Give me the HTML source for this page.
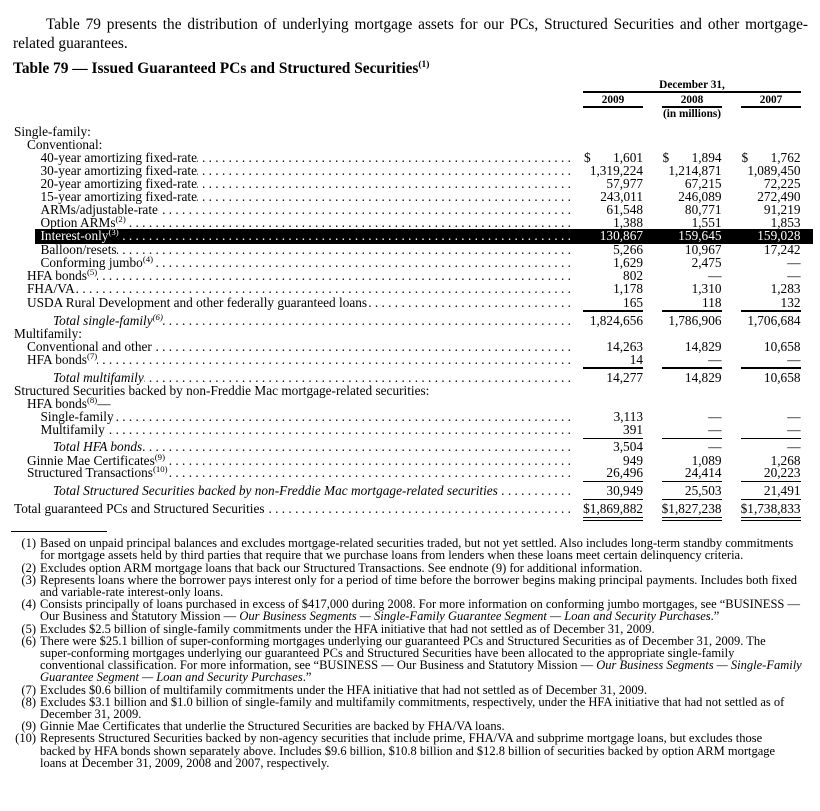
<!DOCTYPE html>
<html><head><meta charset="utf-8">
<style>
*{margin:0;padding:0;box-sizing:border-box}
html,body{width:820px;height:811px;background:#fff;overflow:hidden}
body{position:relative;font-family:"Liberation Serif","Times New Roman",serif;color:#000}
.a{position:absolute;white-space:nowrap}
.p{font-size:15.3px;line-height:19px;height:19px}
.t{font-size:15.4px;line-height:19px;height:19px;font-weight:bold}
.h{font-size:11.3px;line-height:13px;height:13px;font-weight:bold;text-align:center}
.rule{position:absolute;background:#000}
.r{position:absolute;left:0;width:820px;height:14px;line-height:14px;font-size:13.3px;white-space:nowrap}
.l{position:absolute;top:0;display:flex;white-space:nowrap;height:14px}
.l .d{flex:1 1 0;min-width:0;overflow:hidden;direction:rtl;font-style:normal;padding-left:3px;text-align:right;white-space:pre}
.v{position:absolute;top:0;text-align:right;width:100px}
.c1{left:543px}.c2{left:621.5px}.c3{left:700.5px}
.s{position:absolute;top:0}
.s1{left:584px}.s2{left:662.5px}.s3{left:741.5px}
sup,.sp{font-size:8.8px;position:relative;top:-5px;vertical-align:baseline;line-height:0}
.it{font-style:italic}
.w{color:#fff}
.f{position:absolute;left:0;width:820px;font-size:12.5px;line-height:12.2px;height:12.2px;white-space:nowrap}
.f .n{position:absolute;right:784px;top:0}
.f .x{position:absolute;left:40px;top:0}
</style></head><body>

<div class="a p" style="left:46px;top:14.8px;width:762px;text-align:justify;text-align-last:justify">Table 79 presents the distribution of underlying mortgage assets for our PCs, Structured Securities and other mortgage-</div>
<div class="a p" style="left:13px;top:33.5px">related guarantees.</div>
<div class="a t" style="left:13px;top:59.3px">Table 79 — Issued Guaranteed PCs and Structured Securities<span class="sp" style="font-size:9.5px;top:-6px">(1)</span></div>

<div class="a h" style="left:583px;width:218px;top:78.7px">December 31,</div>
<div class="rule" style="left:583px;top:91px;width:218px;height:2px"></div>
<div class="a h" style="left:583px;width:60px;top:93.5px">2009</div>
<div class="a h" style="left:662px;width:60px;top:93.5px">2008</div>
<div class="a h" style="left:741px;width:60px;top:93.5px">2007</div>
<div class="rule" style="left:583px;top:106px;width:60px;height:2px"></div>
<div class="rule" style="left:662px;top:106px;width:60px;height:2px"></div>
<div class="rule" style="left:741px;top:106px;width:60px;height:2px"></div>
<div class="a h" style="left:583px;width:218px;top:107.7px">(in millions)</div>

<div class="r" style="top:125px"><span class="a" style="left:14px">Single-family:</span></div>
<div class="r" style="top:137.5px"><span class="a" style="left:27px">Conventional:</span></div>

<div class="r" style="top:150.5px"><div class="l" style="left:40.5px;width:530.5px"><span>40-year amortizing fixed-rate</span><i class="d">. . . . . . . . . . . . . . . . . . . . . . . . . . . . . . . . . . . . . . . . . . . . . . . . . . . . . . . . . . . . . . . . . . . . . . . . . . . . . . . . . .</i></div><span class="s s1">$</span><span class="v c1">1,601</span><span class="s s2">$</span><span class="v c2">1,894</span><span class="s s3">$</span><span class="v c3">1,762</span></div>
<div class="r" style="top:163.7px"><div class="l" style="left:40.5px;width:530.5px"><span>30-year amortizing fixed-rate</span><i class="d">. . . . . . . . . . . . . . . . . . . . . . . . . . . . . . . . . . . . . . . . . . . . . . . . . . . . . . . . . . . . . . . . . . . . . . . . . . . . . . . . . .</i></div><span class="v c1">1,319,224</span><span class="v c2">1,214,871</span><span class="v c3">1,089,450</span></div>
<div class="r" style="top:176.9px"><div class="l" style="left:40.5px;width:530.5px"><span>20-year amortizing fixed-rate</span><i class="d">. . . . . . . . . . . . . . . . . . . . . . . . . . . . . . . . . . . . . . . . . . . . . . . . . . . . . . . . . . . . . . . . . . . . . . . . . . . . . . . . . .</i></div><span class="v c1">57,977</span><span class="v c2">67,215</span><span class="v c3">72,225</span></div>
<div class="r" style="top:190px"><div class="l" style="left:40.5px;width:530.5px"><span>15-year amortizing fixed-rate</span><i class="d">. . . . . . . . . . . . . . . . . . . . . . . . . . . . . . . . . . . . . . . . . . . . . . . . . . . . . . . . . . . . . . . . . . . . . . . . . . . . . . . . . .</i></div><span class="v c1">243,011</span><span class="v c2">246,089</span><span class="v c3">272,490</span></div>
<div class="r" style="top:203.2px"><div class="l" style="left:40.5px;width:530.5px"><span>ARMs/adjustable-rate</span><i class="d">. . . . . . . . . . . . . . . . . . . . . . . . . . . . . . . . . . . . . . . . . . . . . . . . . . . . . . . . . . . . . . . . . . . . . . . . . . . . . . . . . .</i></div><span class="v c1">61,548</span><span class="v c2">80,771</span><span class="v c3">91,219</span></div>
<div class="r" style="top:216.4px"><div class="l" style="left:40.5px;width:530.5px"><span>Option ARMs<sup>(2)</sup></span><i class="d">. . . . . . . . . . . . . . . . . . . . . . . . . . . . . . . . . . . . . . . . . . . . . . . . . . . . . . . . . . . . . . . . . . . . . . . . . . . . . . . . . .</i></div><span class="v c1">1,388</span><span class="v c2">1,551</span><span class="v c3">1,853</span></div>
<div class="rule" style="left:35px;top:228.5px;width:778px;height:15px"></div>
<div class="r w" style="top:229.4px"><div class="l" style="left:40.5px;width:530.5px"><span>Interest-only<sup>(3)</sup></span><i class="d">. . . . . . . . . . . . . . . . . . . . . . . . . . . . . . . . . . . . . . . . . . . . . . . . . . . . . . . . . . . . . . . . . . . . . . . . . . . . . . . . . .</i></div><span class="v c1">130,867</span><span class="v c2">159,645</span><span class="v c3">159,028</span></div>
<div class="r" style="top:242.8px"><div class="l" style="left:40.5px;width:530.5px"><span>Balloon/resets</span><i class="d">. . . . . . . . . . . . . . . . . . . . . . . . . . . . . . . . . . . . . . . . . . . . . . . . . . . . . . . . . . . . . . . . . . . . . . . . . . . . . . . . . .</i></div><span class="v c1">5,266</span><span class="v c2">10,967</span><span class="v c3">17,242</span></div>
<div class="r" style="top:255.9px"><div class="l" style="left:40.5px;width:530.5px"><span>Conforming jumbo<sup>(4)</sup></span><i class="d">. . . . . . . . . . . . . . . . . . . . . . . . . . . . . . . . . . . . . . . . . . . . . . . . . . . . . . . . . . . . . . . . . . . . . . . . . . . . . . . . . .</i></div><span class="v c1">1,629</span><span class="v c2">2,475</span><span class="v c3">—</span></div>
<div class="r" style="top:269.1px"><div class="l" style="left:27px;width:544px"><span>HFA bonds<sup>(5)</sup></span><i class="d">. . . . . . . . . . . . . . . . . . . . . . . . . . . . . . . . . . . . . . . . . . . . . . . . . . . . . . . . . . . . . . . . . . . . . . . . . . . . . . . . . .</i></div><span class="v c1">802</span><span class="v c2">—</span><span class="v c3">—</span></div>
<div class="r" style="top:282.3px"><div class="l" style="left:27px;width:544px"><span>FHA/VA</span><i class="d">. . . . . . . . . . . . . . . . . . . . . . . . . . . . . . . . . . . . . . . . . . . . . . . . . . . . . . . . . . . . . . . . . . . . . . . . . . . . . . . . . .</i></div><span class="v c1">1,178</span><span class="v c2">1,310</span><span class="v c3">1,283</span></div>
<div class="r" style="top:295.5px"><div class="l" style="left:27px;width:544px"><span>USDA Rural Development and other federally guaranteed loans</span><i class="d">. . . . . . . . . . . . . . . . . . . . . . . . . . . . . . . . . . . . . . . . . . . . . . . . . . . . . . . . . . . . . . . . . . . . . . . . . . . . . . . . . .</i></div><span class="v c1">165</span><span class="v c2">118</span><span class="v c3">132</span></div>
<div class="rule" style="left:583px;top:310.2px;width:60px;height:2px"></div>
<div class="rule" style="left:662px;top:310.2px;width:60px;height:2px"></div>
<div class="rule" style="left:741px;top:310.2px;width:60px;height:2px"></div>
<div class="r" style="top:313.5px"><div class="l it" style="left:53px;width:518px"><span>Total single-family<sup>(6)</sup></span><i class="d">. . . . . . . . . . . . . . . . . . . . . . . . . . . . . . . . . . . . . . . . . . . . . . . . . . . . . . . . . . . . . . . . . . . . . . . . . . . . . . . . . .</i></div><span class="v c1">1,824,656</span><span class="v c2">1,786,906</span><span class="v c3">1,706,684</span></div>
<div class="r" style="top:326.8px"><span class="a" style="left:14px">Multifamily:</span></div>
<div class="r" style="top:340px"><div class="l" style="left:27px;width:544px"><span>Conventional and other</span><i class="d">. . . . . . . . . . . . . . . . . . . . . . . . . . . . . . . . . . . . . . . . . . . . . . . . . . . . . . . . . . . . . . . . . . . . . . . . . . . . . . . . . .</i></div><span class="v c1">14,263</span><span class="v c2">14,829</span><span class="v c3">10,658</span></div>
<div class="r" style="top:352.8px"><div class="l" style="left:27px;width:544px"><span>HFA bonds<sup>(7)</sup></span><i class="d">. . . . . . . . . . . . . . . . . . . . . . . . . . . . . . . . . . . . . . . . . . . . . . . . . . . . . . . . . . . . . . . . . . . . . . . . . . . . . . . . . .</i></div><span class="v c1">14</span><span class="v c2">—</span><span class="v c3">—</span></div>
<div class="rule" style="left:583px;top:366.5px;width:60px;height:2px"></div>
<div class="rule" style="left:662px;top:366.5px;width:60px;height:2px"></div>
<div class="rule" style="left:741px;top:366.5px;width:60px;height:2px"></div>
<div class="r" style="top:370.5px"><div class="l it" style="left:53px;width:518px"><span>Total multifamily</span><i class="d">. . . . . . . . . . . . . . . . . . . . . . . . . . . . . . . . . . . . . . . . . . . . . . . . . . . . . . . . . . . . . . . . . . . . . . . . . . . . . . . . . .</i></div><span class="v c1">14,277</span><span class="v c2">14,829</span><span class="v c3">10,658</span></div>
<div class="r" style="top:383.8px"><span class="a" style="left:14px">Structured Securities backed by non-Freddie Mac mortgage-related securities:</span></div>
<div class="r" style="top:396.8px"><span class="a" style="left:27px">HFA bonds<sup>(8)</sup>—</span></div>
<div class="r" style="top:410.1px"><div class="l" style="left:40.5px;width:530.5px"><span>Single-family</span><i class="d">. . . . . . . . . . . . . . . . . . . . . . . . . . . . . . . . . . . . . . . . . . . . . . . . . . . . . . . . . . . . . . . . . . . . . . . . . . . . . . . . . .</i></div><span class="v c1">3,113</span><span class="v c2">—</span><span class="v c3">—</span></div>
<div class="r" style="top:422.8px"><div class="l" style="left:40.5px;width:530.5px"><span>Multifamily</span><i class="d">. . . . . . . . . . . . . . . . . . . . . . . . . . . . . . . . . . . . . . . . . . . . . . . . . . . . . . . . . . . . . . . . . . . . . . . . . . . . . . . . . .</i></div><span class="v c1">391</span><span class="v c2">—</span><span class="v c3">—</span></div>
<div class="rule" style="left:583px;top:438.3px;width:60px;height:1.2px"></div>
<div class="rule" style="left:662px;top:438.3px;width:60px;height:1.2px"></div>
<div class="rule" style="left:741px;top:438.3px;width:60px;height:1.2px"></div>
<div class="r" style="top:440.3px"><div class="l it" style="left:53px;width:518px"><span>Total HFA bonds</span><i class="d">. . . . . . . . . . . . . . . . . . . . . . . . . . . . . . . . . . . . . . . . . . . . . . . . . . . . . . . . . . . . . . . . . . . . . . . . . . . . . . . . . .</i></div><span class="v c1">3,504</span><span class="v c2">—</span><span class="v c3">—</span></div>
<div class="r" style="top:453.6px"><div class="l" style="left:27px;width:544px"><span>Ginnie Mae Certificates<sup>(9)</sup></span><i class="d">. . . . . . . . . . . . . . . . . . . . . . . . . . . . . . . . . . . . . . . . . . . . . . . . . . . . . . . . . . . . . . . . . . . . . . . . . . . . . . . . . .</i></div><span class="v c1">949</span><span class="v c2">1,089</span><span class="v c3">1,268</span></div>
<div class="r" style="top:466.3px"><div class="l" style="left:27px;width:544px"><span>Structured Transactions<sup>(10)</sup></span><i class="d">. . . . . . . . . . . . . . . . . . . . . . . . . . . . . . . . . . . . . . . . . . . . . . . . . . . . . . . . . . . . . . . . . . . . . . . . . . . . . . . . . .</i></div><span class="v c1">26,496</span><span class="v c2">24,414</span><span class="v c3">20,223</span></div>
<div class="rule" style="left:583px;top:480.7px;width:60px;height:1.2px"></div>
<div class="rule" style="left:662px;top:480.7px;width:60px;height:1.2px"></div>
<div class="rule" style="left:741px;top:480.7px;width:60px;height:1.2px"></div>
<div class="r" style="top:484px"><div class="l it" style="left:53px;width:518px"><span>Total Structured Securities backed by non-Freddie Mac mortgage-related securities</span><i class="d">. . . . . . . . . . . . . . . . . . . . . . . . . . . . . . . . . . . . . . . . . . . . . . . . . . . . . . . . . . . . . . . . . . . . . . . . . . . . . . . . . .</i></div><span class="v c1">30,949</span><span class="v c2">25,503</span><span class="v c3">21,491</span></div>
<div class="rule" style="left:583px;top:498.5px;width:60px;height:1.7px"></div>
<div class="rule" style="left:662px;top:498.5px;width:60px;height:1.7px"></div>
<div class="rule" style="left:741px;top:498.5px;width:60px;height:1.7px"></div>
<div class="r" style="top:502.3px"><div class="l" style="left:14px;width:557px"><span>Total guaranteed PCs and Structured Securities</span><i class="d">. . . . . . . . . . . . . . . . . . . . . . . . . . . . . . . . . . . . . . . . . . . . . . . . . . . . . . . . . . . . . . . . . . . . . . . . . . . . . . . . . .</i></div><span class="v c1">$1,869,882</span><span class="v c2">$1,827,238</span><span class="v c3">$1,738,833</span></div>
<div class="rule" style="left:583px;top:516.6px;width:60px;height:1.3px"></div>
<div class="rule" style="left:662px;top:516.6px;width:60px;height:1.3px"></div>
<div class="rule" style="left:741px;top:516.6px;width:60px;height:1.3px"></div>
<div class="rule" style="left:583px;top:519.6px;width:60px;height:1.3px"></div>
<div class="rule" style="left:662px;top:519.6px;width:60px;height:1.3px"></div>
<div class="rule" style="left:741px;top:519.6px;width:60px;height:1.3px"></div>

<div class="rule" style="left:11px;top:530.5px;width:96px;height:1.5px"></div>

<div class="f" style="top:537.2px"><span class="n">(1)</span><span class="x">Based on unpaid principal balances and excludes mortgage-related securities traded, but not yet settled. Also includes long-term standby commitments</span></div>
<div class="f" style="top:549.4px"><span class="x">for mortgage assets held by third parties that require that we purchase loans from lenders when these loans meet certain delinquency criteria.</span></div>
<div class="f" style="top:561.6px"><span class="n">(2)</span><span class="x">Excludes option ARM mortgage loans that back our Structured Transactions. See endnote (9) for additional information.</span></div>
<div class="f" style="top:573.8px"><span class="n">(3)</span><span class="x">Represents loans where the borrower pays interest only for a period of time before the borrower begins making principal payments. Includes both fixed</span></div>
<div class="f" style="top:586px"><span class="x">and variable-rate interest-only loans.</span></div>
<div class="f" style="top:598.2px"><span class="n">(4)</span><span class="x">Consists principally of loans purchased in excess of $417,000 during 2008. For more information on conforming jumbo mortgages, see “BUSINESS —</span></div>
<div class="f" style="top:610.4px"><span class="x">Our Business and Statutory Mission — <i>Our Business Segments — Single-Family Guarantee Segment — Loan and Security Purchases</i>.”</span></div>
<div class="f" style="top:622.6px"><span class="n">(5)</span><span class="x">Excludes $2.5 billion of single-family commitments under the HFA initiative that had not settled as of December 31, 2009.</span></div>
<div class="f" style="top:634.8px"><span class="n">(6)</span><span class="x">There were $25.1 billion of super-conforming mortgages underlying our guaranteed PCs and Structured Securities as of December 31, 2009. The</span></div>
<div class="f" style="top:647px"><span class="x">super-conforming mortgages underlying our guaranteed PCs and Structured Securities have been allocated to the appropriate single-family</span></div>
<div class="f" style="top:659.2px"><span class="x">conventional classification. For more information, see “BUSINESS — Our Business and Statutory Mission — <i>Our Business Segments — Single-Family</i></span></div>
<div class="f" style="top:671.4px"><span class="x"><i>Guarantee Segment — Loan and Security Purchases</i>.”</span></div>
<div class="f" style="top:683.6px"><span class="n">(7)</span><span class="x">Excludes $0.6 billion of multifamily commitments under the HFA initiative that had not settled as of December 31, 2009.</span></div>
<div class="f" style="top:695.8px"><span class="n">(8)</span><span class="x">Excludes $3.1 billion and $1.0 billion of single-family and multifamily commitments, respectively, under the HFA initiative that had not settled as of</span></div>
<div class="f" style="top:708px"><span class="x">December 31, 2009.</span></div>
<div class="f" style="top:720.2px"><span class="n">(9)</span><span class="x">Ginnie Mae Certificates that underlie the Structured Securities are backed by FHA/VA loans.</span></div>
<div class="f" style="top:732.4px"><span class="n">(10)</span><span class="x">Represents Structured Securities backed by non-agency securities that include prime, FHA/VA and subprime mortgage loans, but excludes those</span></div>
<div class="f" style="top:744.6px"><span class="x">backed by HFA bonds shown separately above. Includes $9.6 billion, $10.8 billion and $12.8 billion of securities backed by option ARM mortgage</span></div>
<div class="f" style="top:756.8px"><span class="x">loans at December 31, 2009, 2008 and 2007, respectively.</span></div>

</body></html>
